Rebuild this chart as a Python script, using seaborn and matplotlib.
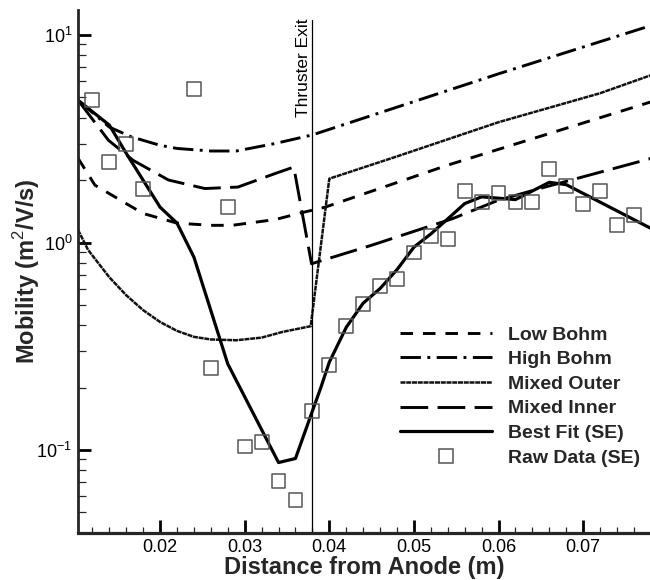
import matplotlib
matplotlib.use("Agg")
import matplotlib.pyplot as plt
import matplotlib.ticker as mticker
from matplotlib.lines import Line2D
import seaborn as sns
import pandas as pd

# ---------------- data ----------------
dist_low = [0.0103, 0.0123, 0.016, 0.018, 0.022, 0.026, 0.0285, 0.0336, 0.037, 0.0395, 0.054, 0.078]
mob_low = [2.55, 1.89, 1.54, 1.38, 1.24, 1.21, 1.21, 1.29, 1.40, 1.48, 2.36, 4.76]

dist_high = [0.0103, 0.014, 0.0166, 0.020, 0.022, 0.026, 0.029, 0.0336, 0.038, 0.060, 0.078]
mob_high = [4.85, 3.6, 3.23, 2.94, 2.84, 2.76, 2.76, 3.0, 3.3, 6.5, 11.1]

dist_outer = [0.0103, 0.0115, 0.014, 0.016, 0.018, 0.020, 0.022, 0.024, 0.026, 0.029,
              0.032, 0.0345, 0.0378, 0.040, 0.048, 0.060, 0.072, 0.078]
mob_outer = [1.15, 0.92, 0.68, 0.557, 0.472, 0.414, 0.375, 0.351, 0.341, 0.338,
             0.348, 0.371, 0.395, 2.03, 2.6, 3.8, 5.24, 6.4]

dist_inner = [0.0103, 0.0139, 0.0168, 0.021, 0.0253, 0.0292, 0.0336, 0.0358, 0.0379,
              0.045, 0.0545, 0.060, 0.0655, 0.078]
mob_inner = [4.85, 3.11, 2.49, 2.0, 1.82, 1.85, 2.15, 2.31, 0.79,
             0.97, 1.3, 1.6, 1.85, 2.54]

dist_fit = [0.0103, 0.014, 0.016, 0.020, 0.022, 0.024, 0.028, 0.034, 0.036, 0.038, 0.039,
            0.040, 0.042, 0.044, 0.046, 0.048, 0.050, 0.052, 0.054, 0.056, 0.058, 0.062,
            0.066, 0.068, 0.078]
mob_fit = [4.85, 3.68, 2.69, 1.48, 1.24, 0.85, 0.26, 0.087, 0.091, 0.154, 0.20,
           0.265, 0.39, 0.51, 0.60, 0.74, 0.95, 1.10, 1.30, 1.54, 1.66, 1.61,
           1.95, 1.90, 1.17]

dist_raw = [0.012, 0.014, 0.016, 0.018, 0.024, 0.026, 0.028, 0.030, 0.032, 0.034, 0.036,
            0.038, 0.040, 0.042, 0.044, 0.046, 0.048, 0.050, 0.052, 0.054, 0.056, 0.058,
            0.060, 0.062, 0.064, 0.066, 0.068, 0.070, 0.072, 0.074, 0.076]
mob_raw = [4.87, 2.44, 2.98, 1.81, 5.5, 0.249, 1.48, 0.104, 0.109, 0.0708, 0.0577,
           0.154, 0.258, 0.396, 0.503, 0.616, 0.666, 0.895, 1.076, 1.037, 1.77, 1.56,
           1.73, 1.56, 1.56, 2.26, 1.87, 1.54, 1.77, 1.22, 1.36]

series_labels = ["Low Bohm", "High Bohm", "Mixed Outer", "Mixed Inner", "Best Fit (SE)", "Raw Data (SE)"]
x_tick_values = [0.02, 0.03, 0.04, 0.05, 0.06, 0.07]
x_label = "Distance from Anode (m)"
y_label = "Mobility (m$^2$/V/s)"
exit_x = 0.038
exit_label = "Thruster Exit"

# ---------------- style ----------------
sns.set_style("ticks")
plt.rcParams["font.family"] = ["Liberation Sans", "DejaVu Sans"]
plt.rcParams["mathtext.fontset"] = "custom"
plt.rcParams["mathtext.rm"] = "Liberation Sans"
plt.rcParams["mathtext.bf"] = "Liberation Sans:bold"

fig = plt.figure(figsize=(6.5, 5.8), dpi=100)
ax = fig.add_axes([78 / 650, 47 / 580, 572 / 650, 523 / 580])

LW = 2.1
styles = {
    "Low Bohm": dict(linestyle=(0, (4.3, 3.4)), lw=LW, color="black"),
    "High Bohm": dict(linestyle=(0, (7, 2.2, 1, 2.2)), lw=LW, color="black"),
    "Mixed Outer": dict(linestyle=(0, (2.0, 0.3)), lw=1.8, color="#111111"),
    "Mixed Inner": dict(linestyle=(0, (9.5, 3.2)), lw=LW, color="black"),
    "Best Fit (SE)": dict(linestyle="-", lw=2.3, color="black"),
}
series = [
    ("Low Bohm", dist_low, mob_low),
    ("High Bohm", dist_high, mob_high),
    ("Mixed Outer", dist_outer, mob_outer),
    ("Mixed Inner", dist_inner, mob_inner),
    ("Best Fit (SE)", dist_fit, mob_fit),
]
for name, xs, ys in series:
    df = pd.DataFrame({"x": xs, "y": ys})
    sns.lineplot(data=df, x="x", y="y", ax=ax, sort=False, estimator=None,
                 legend=False, **styles[name])

raw_df = pd.DataFrame({"x": dist_raw, "y": mob_raw})
sns.scatterplot(data=raw_df, x="x", y="y", ax=ax, marker="s", s=100,
                facecolor="none", edgecolor="#555555", linewidth=1.1, legend=False, zorder=3)

# thruster exit line
ax.axvline(exit_x, ymin=0, ymax=(533 - 20) / 523, color="black", lw=0.9)
ax.text(exit_x - 0.00015, 12.0, exit_label, rotation=90, ha="right", va="top",
        fontsize=12.5, color="black")

# axes
ax.set_yscale("log")
ax.set_xlim(0.0103, 0.0779)
ax.set_ylim(10 ** -1.4, 10 ** 1.1205)
ax.set_xticks(x_tick_values)
ax.xaxis.set_major_formatter(mticker.FormatStrFormatter("%.2f"))
ax.xaxis.set_minor_locator(mticker.MultipleLocator(0.002))
ax.yaxis.set_major_locator(mticker.LogLocator(base=10, numticks=10))
ax.yaxis.set_minor_locator(mticker.LogLocator(base=10, subs=range(2, 10), numticks=20))
ax.yaxis.set_minor_formatter(mticker.NullFormatter())

for s in ["top", "right"]:
    ax.spines[s].set_visible(False)
ax.spines["left"].set_linewidth(2.0)
ax.spines["bottom"].set_linewidth(2.3)

ax.tick_params(axis="both", which="major", direction="in", length=9.5, width=2.0,
               labelsize=13, pad=4, colors="black")
ax.tick_params(axis="x", which="minor", direction="in", length=4, width=0.9)
ax.tick_params(axis="y", which="minor", direction="in", length=5.5, width=0.9)

ax.set_xlabel(x_label, fontsize=17, fontweight="bold", labelpad=0)
ax.set_ylabel(y_label, fontsize=17, fontweight="bold")
ax.yaxis.set_label_coords((42 - 78) / 572, 0.5)

# legend
handles = []
for name in series_labels[:-1]:
    st = styles[name]
    handles.append(Line2D([0], [0], **st))
handles.append(Line2D([0], [0], marker="s", linestyle="none", markersize=10,
                      markerfacecolor="none", markeredgecolor="#555555", markeredgewidth=1.1))
leg = ax.legend(handles, series_labels, loc="upper left",
                bbox_to_anchor=(400 / 650, 1 - 326 / 580), bbox_transform=fig.transFigure,
                frameon=False, handlelength=4.75, handletextpad=0.8, labelspacing=0.36,
                borderpad=0, borderaxespad=0, prop={"size": 14, "weight": "bold"})

fig.savefig("out.png", dpi=100)
